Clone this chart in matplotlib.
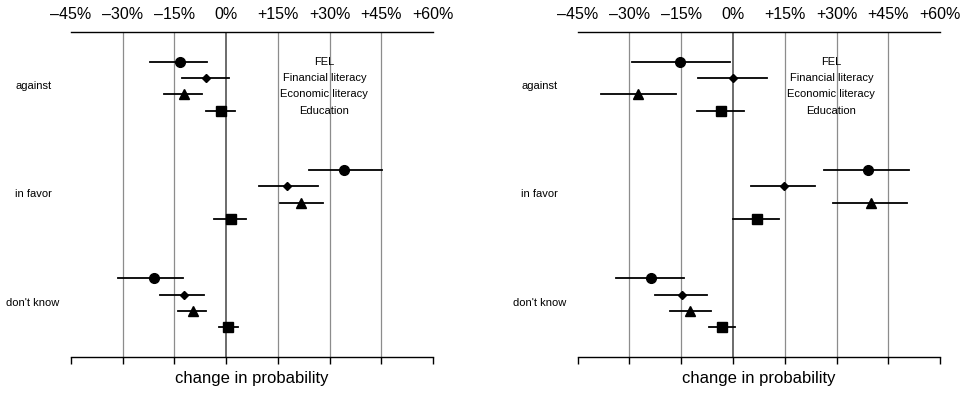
import numpy as np
import matplotlib.pyplot as plt

plt.rcParams['font.family'] = ['Liberation Sans', 'DejaVu Sans']

categories = ['against', 'in favor', "don't know"]
variables = ['FEL', 'Financial literacy', 'Economic literacy', 'Education']
markers = ['o', 'D', '^', 's']
msizes = [7, 4, 7.5, 6.5]

# marginal effects (percentage points): rows = category, cols = variable
left_est = [[-13.4, -5.8, -12.2, -1.6],
            [34.3, 17.6, 21.7, 1.4],
            [-20.9, -12.1, -9.5, 0.4]]
left_lo = [[-22.1, -12.9, -17.9, -5.7],
           [23.9, 9.4, 15.5, -3.4],
           [-31.4, -19.3, -13.9, -2.1]]
left_hi = [[-5.6, 0.7, -6.9, 2.5],
           [45.1, 26.5, 28.1, 5.9],
           [-12.4, -6.3, -5.8, 3.3]]

right_est = [[-15.3, 0.0, -27.5, -3.6],
             [39.0, 14.7, 39.9, 6.9],
             [-23.7, -14.7, -12.4, -3.3]]
right_lo = [[-29.4, -10.1, -38.3, -10.3],
            [26.4, 5.1, 29.0, 0.1],
            [-33.9, -22.6, -18.4, -7.0]]
right_hi = [[-0.8, 9.9, -16.5, 3.3],
            [50.9, 23.9, 50.4, 13.4],
            [-14.3, -7.4, -6.4, 0.7]]

ticks = [-45, -30, -15, 0, 15, 30, 45, 60]
tick_labels = ['–45%', '–30%', '–15%', '0%', '+15%', '+30%', '+45%', '+60%']

fig = plt.figure(figsize=(9.7, 3.94), dpi=100)

def panel(rect, est, lo, hi):
    ax = fig.add_axes(rect)
    ax.set_xlim(-45, 60)
    ax.set_ylim(20, 0)
    for t in ticks[1:-1]:
        if t == 0:
            ax.axvline(t, color='#444444', lw=1.1, zorder=1)
        else:
            ax.axvline(t, color='#8c8c8c', lw=0.9, zorder=1)
    centers = [20 / 6, 10, 100 / 6]
    for g, c in enumerate(centers):
        for k in range(4):
            y = c - 1.5 + k
            ax.plot([lo[g][k], hi[g][k]], [y, y], color='black', lw=1.3, zorder=2)
            ax.plot(est[g][k], y, marker=markers[k], ms=msizes[k],
                    color='black', ls='none', zorder=3)
        ax.text(-56, c, categories[g], ha='center', va='center', fontsize=8,
                clip_on=False)
    for k, v in enumerate(variables):
        ax.text(28.5, 20 / 6 - 1.5 + k, v, ha='center', va='center',
                fontsize=8, zorder=4)
    ax.set_xticks(ticks)
    ax.set_xticklabels(tick_labels)
    ax.tick_params(axis='x', top=False, labeltop=True, bottom=True,
                   labelbottom=False, labelsize=11.5, length=5, width=1, pad=2)
    ax.set_yticks([])
    ax.spines['left'].set_visible(False)
    ax.spines['right'].set_visible(False)
    ax.spines['top'].set_linewidth(1)
    ax.spines['bottom'].set_linewidth(1)
    ax.set_xlabel('change in probability', fontsize=12, labelpad=5)
    return ax

panel([0.0732, 0.0939, 0.3732, 0.8249], left_est, left_lo, left_hi)
panel([0.5956, 0.0939, 0.3735, 0.8249], right_est, right_lo, right_hi)

fig.savefig('out.png', dpi=100)
